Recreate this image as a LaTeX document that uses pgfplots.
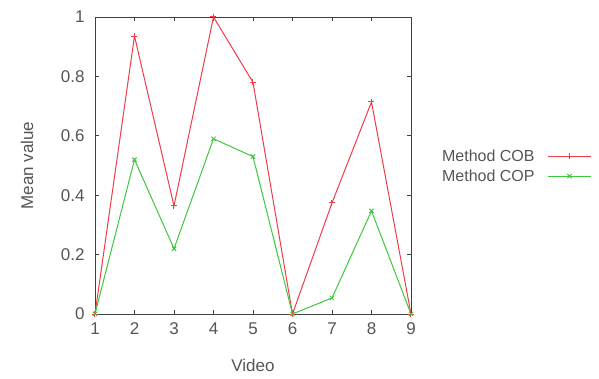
\documentclass[border=0pt]{standalone}
\usepackage{fontspec}
\setmainfont{Liberation Sans}
\usepackage{pgfplots}
\pgfplotsset{compat=1.18}
\definecolor{cob}{RGB}{240,60,70}
\definecolor{cop}{RGB}{60,200,60}
\definecolor{txt}{RGB}{85,85,85}
\begin{document}
\begin{tikzpicture}[x=1pt,y=1pt]
\useasboundingbox (-95,-64) rectangle (504,314);
\begin{axis}[
  at={(0,0)}, anchor=south west,
  scale only axis, width=316pt, height=297pt,
  xmin=1, xmax=9, ymin=0, ymax=1,
  xtick={1,...,9}, ytick={0,0.2,0.4,0.6,0.8,1},
  yticklabels={0,0.2,0.4,0.6,0.8,1},
  tick align=inside, major tick length=4pt,
  axis line style={black!75, line width=0.8pt},
  tick style={black!75, line width=0.8pt},
  font=\fontsize{17}{20}\selectfont,
  tick label style={txt},
  xticklabel style={yshift=-5pt},
  yticklabel style={xshift=-7pt},
  /pgf/number format/assume math mode=true,
  xlabel={Video}, ylabel={Mean value},
  label style={txt},
  xlabel style={at={(axis description cs:0.5,-0.172)}, anchor=center},
  ylabel style={at={(axis description cs:-0.215,0.5)}, anchor=center},
  legend plot pos=right,
  legend style={at={(1.082,0.498)}, anchor=west, draw=none, fill=none,
    font=\fontsize{16}{19}\selectfont, text=txt, row sep=3pt,
    legend cell align=right},
  legend image code/.code={
    \path (0pt,0pt);
    \draw[#1, mark=none] (11pt,0pt) -- (54pt,0pt);
    \draw[#1, only marks] plot coordinates {(32.5pt,0pt)};
  },
]
\addplot[cob, line width=1pt, mark=+, mark size=3pt, mark options={cob}] coordinates {
(1,0) (2,0.936) (3,0.364) (4,1.0) (5,0.78) (6,0) (7,0.374) (8,0.714) (9,0)};
\addlegendentry{Method COB}
\addplot[cop, line width=1pt, mark=x, mark size=3pt, mark options={cop}] coordinates {
(1,0) (2,0.52) (3,0.22) (4,0.59) (5,0.53) (6,0) (7,0.054) (8,0.347) (9,0)};
\addlegendentry{Method COP}
\end{axis}
\end{tikzpicture}
\end{document}
